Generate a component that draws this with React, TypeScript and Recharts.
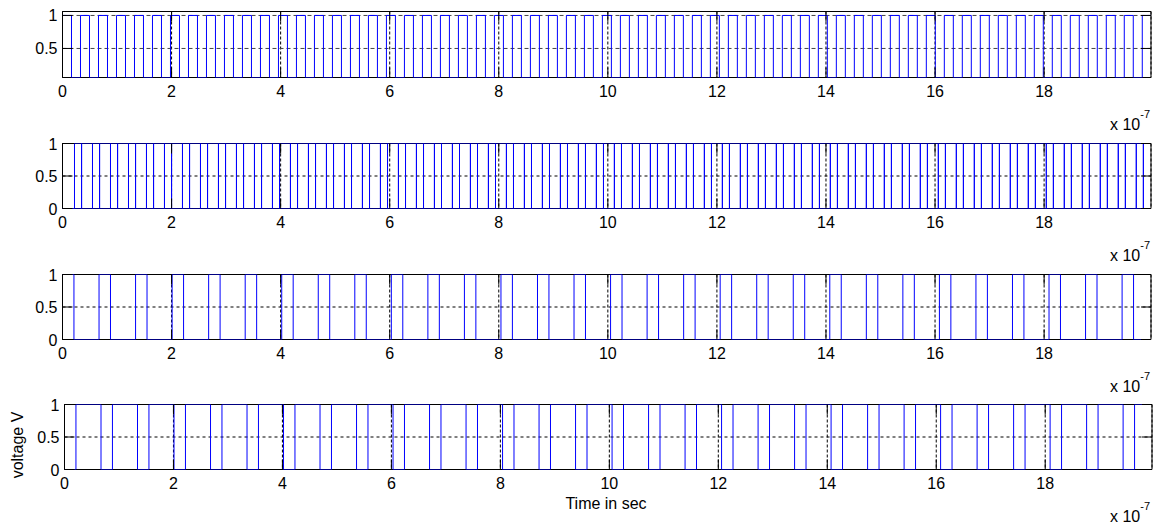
import React from 'react';
import { LineChart, Line, XAxis, YAxis, CartesianGrid, ReferenceArea } from 'recharts';

// ---------- data (time in units of 1e-7 s) ----------
const X_END = 19.96;
const xTicks = [0, 2, 4, 6, 8, 10, 12, 14, 16, 18];
const yTicksP1 = [0.5, 1];
const yTicksP234 = [0, 0.5, 1];

// Panel 1: clock, axis limits and low / high levels
const p1Domain = [0.06, 1.06];
const p1Levels = [0.06, 1];
const p1StartHigh = true;
const p1Edges = [
  0.165, 0.33, 0.495, 0.66, 0.825, 0.99, 1.155, 1.32, 1.485, 1.65, 1.815, 1.98,
  2.145, 2.31, 2.475, 2.64, 2.805, 2.97, 3.135, 3.3, 3.465, 3.63, 3.795, 3.96,
  4.125, 4.29, 4.455, 4.62, 4.785, 4.95, 5.115, 5.28, 5.445, 5.61, 5.775, 5.94,
  6.105, 6.27, 6.435, 6.6, 6.765, 6.93, 7.095, 7.26, 7.425, 7.59, 7.755, 7.92,
  8.085, 8.25, 8.415, 8.58, 8.745, 8.91, 9.075, 9.24, 9.405, 9.57, 9.735, 9.9,
  10.065, 10.23, 10.395, 10.56, 10.725, 10.89, 11.055, 11.22, 11.385, 11.55, 11.715, 11.88,
  12.045, 12.21, 12.375, 12.54, 12.705, 12.87, 13.035, 13.2, 13.365, 13.53, 13.695, 13.86,
  14.025, 14.19, 14.355, 14.52, 14.685, 14.85, 15.015, 15.18, 15.345, 15.51, 15.675, 15.84,
  16.005, 16.17, 16.335, 16.5, 16.665, 16.83, 16.995, 17.16, 17.325, 17.49, 17.655, 17.82,
  17.985, 18.15, 18.315, 18.48, 18.645, 18.81, 18.975, 19.14, 19.305, 19.47, 19.635, 19.8,
];

// Panel 2: two complementary pulse trains sharing the same edges
const p2Domain = [0, 1];
const p2Edges = [
  0.22, 0.35, 0.55, 0.68, 0.88, 1.01, 1.21, 1.34, 1.54, 1.67, 1.87, 2.0,
  2.2, 2.33, 2.53, 2.66, 2.86, 2.99, 3.19, 3.32, 3.52, 3.65, 3.85, 3.98,
  4.18, 4.31, 4.51, 4.64, 4.84, 4.97, 5.17, 5.3, 5.5, 5.63, 5.83, 5.96,
  6.16, 6.29, 6.49, 6.62, 6.82, 6.95, 7.15, 7.28, 7.48, 7.61, 7.81, 7.94,
  8.14, 8.27, 8.47, 8.6, 8.8, 8.93, 9.13, 9.26, 9.46, 9.59, 9.79, 9.92,
  10.12, 10.25, 10.45, 10.58, 10.78, 10.91, 11.11, 11.24, 11.44, 11.57, 11.77, 11.9,
  12.1, 12.23, 12.43, 12.56, 12.76, 12.89, 13.09, 13.22, 13.42, 13.55, 13.75, 13.88,
  14.08, 14.21, 14.41, 14.54, 14.74, 14.87, 15.07, 15.2, 15.4, 15.53, 15.73, 15.86,
  16.06, 16.19, 16.39, 16.52, 16.72, 16.85, 17.05, 17.18, 17.38, 17.51, 17.71, 17.84,
  18.04, 18.17, 18.37, 18.5, 18.7, 18.83, 19.03, 19.16, 19.36, 19.49, 19.69, 19.82,
];

// Panels 3 and 4: divided output (Q) and its complement
const p34Domain = [0, 1];
const p3StartHigh = true;
const p4StartHigh = false;
const p34Edges = [
  0.21, 0.67, 0.88, 1.34, 1.55, 2.01, 2.22, 2.68, 2.89, 3.35, 3.56, 4.02,
  4.23, 4.69, 4.9, 5.36, 5.57, 6.03, 6.24, 6.7, 6.91, 7.37, 7.58, 8.04,
  8.25, 8.71, 8.92, 9.38, 9.59, 10.05, 10.26, 10.72, 10.93, 11.39, 11.6, 12.06,
  12.27, 12.73, 12.94, 13.4, 13.61, 14.07, 14.28, 14.74, 14.95, 15.41, 15.62, 16.08,
  16.29, 16.75, 16.96, 17.42, 17.63, 18.09, 18.3, 18.76, 18.97, 19.43, 19.64,
];

// ---------- helpers ----------
const FONT = '"Liberation Sans", Arial, Helvetica, sans-serif';
const W = 1154;
const H = 523;

function stepTable(edges: number[], startHigh: boolean, lo: number, hi: number) {
  const rows: { t: number; v: number }[] = [];
  let high = startHigh;
  rows.push({ t: 0, v: high ? hi : lo });
  for (const e of edges) {
    high = !high;
    rows.push({ t: e, v: high ? hi : lo });
  }
  rows.push({ t: X_END, v: high ? hi : lo });
  return rows;
}

function pairTable(edges: number[]) {
  // a: rises on first edge; b: stays low until second edge, then complement of a
  const rows: { t: number; a: number; b: number }[] = [{ t: 0, a: 0, b: 0 }];
  let a = 0;
  edges.forEach((e, i) => {
    a = 1 - a;
    rows.push({ t: e, a, b: i === 0 ? 0 : 1 - a });
  });
  const last = rows[rows.length - 1];
  rows.push({ t: X_END, a: last.a, b: last.b });
  return rows;
}

type PanelProps = {
  left: number;
  right: number;
  top: number;
  bottom: number;
  domain: number[];
  yTicks: number[];
  data: any[];
  keys: string[];
  hGridColor?: string;
  hGridDash?: string;
};

function Panel({ left, right, top, bottom, domain, yTicks, data, keys, hGridColor = '#000', hGridDash = '3 3' }: PanelProps) {
  const plotH = bottom - top;
  const plotW = right - left;
  const xTick = (p: any) => {
    const { x, y, payload } = p;
    return (
      <g>
        <line x1={x} x2={x} y1={y} y2={y - 10} stroke="#000" />
        <line x1={x} x2={x} y1={y - plotH} y2={y - plotH + 10} stroke="#000" />
        <text x={x} y={y + 19} textAnchor="middle" fontSize={16} fontFamily={FONT} fill="#000">
          {payload.value}
        </text>
      </g>
    );
  };
  const yTick = (p: any) => {
    const { x, y, payload } = p;
    return (
      <g>
        <line x1={x} x2={x + 10} y1={y} y2={y} stroke="#000" />
        <line x1={x + plotW - 10} x2={x + plotW} y1={y} y2={y} stroke="#000" />
        <text x={x - 5} y={y + 6} textAnchor="end" fontSize={16} fontFamily={FONT} fill="#000">
          {payload.value}
        </text>
      </g>
    );
  };
  return (
    <div style={{ position: 'absolute', left: 0, top: 0, width: W, height: H }}>
      <LineChart
        width={W}
        height={H}
        data={data}
        margin={{ top, bottom: H - bottom - 1, left: left - 1, right: W - right }}
      >
        <CartesianGrid horizontal={false} stroke="#000" strokeDasharray="3 2" />
        <CartesianGrid vertical={false} stroke={hGridColor} strokeDasharray={hGridDash} />
        <ReferenceArea
          x1={0}
          x2={X_END}
          y1={domain[0]}
          y2={domain[1]}
          fill="none"
          stroke="#000"
          strokeWidth={1}
          fillOpacity={0}
          zIndex={-50}
        />
        <XAxis
          type="number"
          dataKey="t"
          domain={[0, X_END]}
          ticks={xTicks}
          interval={0}
          height={1}
          tickSize={0}
          tickMargin={0}
          axisLine={false}
          tickLine={false}
          tick={xTick}
        />
        <YAxis
          type="number"
          domain={domain}
          ticks={yTicks}
          interval={0}
          width={1}
          tickSize={0}
          tickMargin={0}
          axisLine={false}
          tickLine={false}
          tick={yTick}
          allowDataOverflow
        />
        {keys.map((k) => (
          <Line
            key={k}
            type="stepAfter"
            dataKey={k}
            stroke="#0000ff"
            strokeWidth={1}
            dot={false}
            activeDot={false}
            isAnimationActive={false}
          />
        ))}
      </LineChart>
    </div>
  );
}

const data1 = stepTable(p1Edges, p1StartHigh, p1Levels[0], p1Levels[1]);
const data2 = pairTable(p2Edges);
const data3 = stepTable(p34Edges, p3StartHigh, 0, 1);
const data4 = stepTable(p34Edges, p4StartHigh, 0, 1);

const panelBottoms = [77.5, 208.5, 339.5, 469.5];

export default function App() {
  return (
    <div style={{ position: 'absolute', left: 0, top: 0, width: W, height: H, background: '#fff', overflow: 'hidden' }}>
      <Panel left={62.5} right={1151} top={11.5} bottom={77.5} domain={p1Domain} yTicks={yTicksP1} data={data1} keys={['v']} hGridColor="#444" hGridDash="4 3" />
      <Panel left={62.5} right={1151} top={143.5} bottom={208.5} domain={p2Domain} yTicks={yTicksP234} data={data2} keys={['a', 'b']} />
      <Panel left={62.5} right={1151} top={274.5} bottom={339.5} domain={p34Domain} yTicks={yTicksP234} data={data3} keys={['v']} />
      <Panel left={64.5} right={1152} top={404.5} bottom={469.5} domain={p34Domain} yTicks={yTicksP234} data={data4} keys={['v']} />
      <svg width={W} height={H} style={{ position: 'absolute', left: 0, top: 0, pointerEvents: 'none' }}>
        {panelBottoms.map((b, i) => (
          <text key={i} x={1110} y={b + 52} fontSize={16} fontFamily={FONT} fill="#000">
            x 10
            <tspan dy={-12} fontSize={11}>-7</tspan>
          </text>
        ))}
        <text x={606} y={509} textAnchor="middle" fontSize={16} fontFamily={FONT} fill="#000">
          Time in sec
        </text>
        <text
          x={0}
          y={0}
          transform="translate(23,445) rotate(-90)"
          textAnchor="middle"
          fontSize={16}
          fontFamily={FONT}
          fill="#000"
        >
          voltage V
        </text>
      </svg>
    </div>
  );
}
